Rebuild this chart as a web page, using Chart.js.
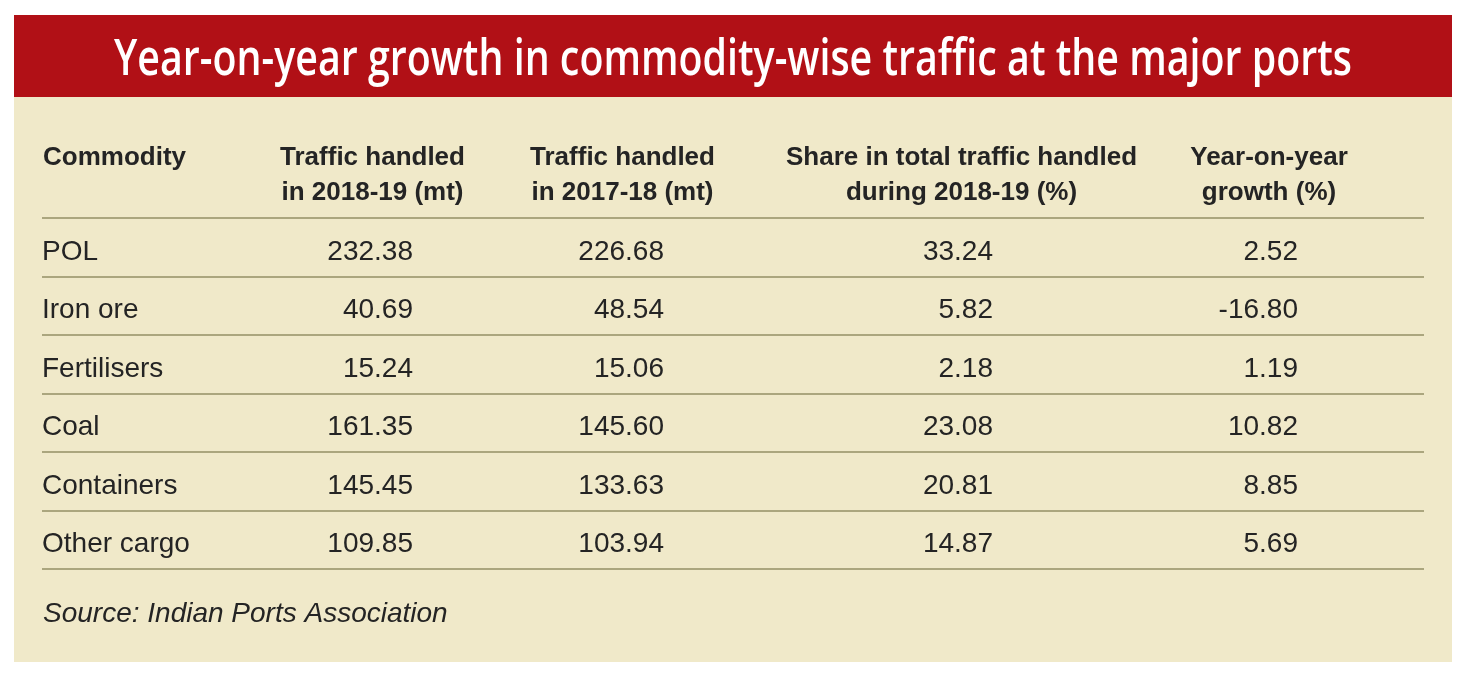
<!DOCTYPE html>
<html>
<head>
<meta charset="utf-8">
<title>Year-on-year growth in commodity-wise traffic at the major ports</title>
<script src="https://cdn.jsdelivr.net/npm/chart.js@4.4.0/dist/chart.umd.min.js"></script>
<style>
  html, body { margin: 0; padding: 0; background: #ffffff; }
  #wrap { position: relative; width: 1470px; height: 677px; }
</style>
</head>
<body>
<div id="wrap"><canvas id="ports-table"></canvas></div>
<script>
// ---- data ----
const titleText = 'Year-on-year growth in commodity-wise traffic at the major ports';
const sourceText = 'Source: Indian Ports Association';
const commodities = ['POL', 'Iron ore', 'Fertilisers', 'Coal', 'Containers', 'Other cargo'];
const traffic2018_19 = [232.38, 40.69, 15.24, 161.35, 145.45, 109.85];
const traffic2017_18 = [226.68, 48.54, 15.06, 145.60, 133.63, 103.94];
const shareTotal = [33.24, 5.82, 2.18, 23.08, 20.81, 14.87];
const yoyGrowth = [2.52, -16.80, 1.19, 10.82, 8.85, 5.69];
const firstHeader = 'Commodity';
const columnHeaders = [
    ['Traffic handled', 'in 2018-19 (mt)'],
    ['Traffic handled', 'in 2017-18 (mt)'],
    ['Share in total traffic handled', 'during 2018-19 (%)'],
    ['Year-on-year', 'growth (%)']
];

// ---- layout / style ----
const PANEL = { x: 14, y: 15, w: 1438, h: 647, band: 82 };
const PANEL_BG = '#f0e9c9';
const TITLE_BG = '#b11016';
const RULE = '#aba67e';
const INK = '#242424';
const BODY_FONT = '"Liberation Sans", Arial, sans-serif';
const colRight = [413, 664, 993, 1298];     // right edge of each number column
const colCenter = [372.5, 622.5, 961.5, 1269]; // centre of each column heading
const headerBaselines = [165, 200];

const numberColumns = [traffic2018_19, traffic2017_18, shareTotal, yoyGrowth];

const tablePlugin = {
    id: 'tablePlugin',
    beforeDraw(chart) {
        const ctx = chart.ctx;
        ctx.save();
        ctx.fillStyle = '#ffffff';
        ctx.fillRect(0, 0, chart.width, chart.height);
        ctx.fillStyle = PANEL_BG;
        ctx.fillRect(PANEL.x, PANEL.y, PANEL.w, PANEL.h);
        ctx.fillStyle = TITLE_BG;
        ctx.fillRect(PANEL.x, PANEL.y, PANEL.w, PANEL.band);

        // title, squeezed to the condensed width of the original
        ctx.font = '600 51px "Open Sans", sans-serif';
        ctx.fillStyle = '#ffffff';
        ctx.textAlign = 'center';
        ctx.textBaseline = 'alphabetic';
        const w = ctx.measureText(titleText).width;
        ctx.translate(PANEL.x + PANEL.w / 2, 75);
        ctx.scale(1238 / w, 1);
        ctx.fillText(titleText, 0, 0);
        ctx.restore();
    },
    afterDatasetsDraw(chart) {
        const ctx = chart.ctx;
        const xScale = chart.scales.x;
        ctx.save();
        ctx.fillStyle = INK;

        // column headings
        ctx.font = 'bold 26px ' + BODY_FONT;
        ctx.textBaseline = 'alphabetic';
        ctx.textAlign = 'left';
        ctx.fillText(firstHeader, xScale.getPixelForValue(43), headerBaselines[0]);
        ctx.textAlign = 'center';
        columnHeaders.forEach((lines, j) => {
            lines.forEach((line, k) => {
                ctx.fillText(line, xScale.getPixelForValue(colCenter[j]), headerBaselines[k]);
            });
        });

        // cell values, placed at each point the library laid out
        ctx.font = '28px ' + BODY_FONT;
        ctx.textAlign = 'right';
        ctx.textBaseline = 'middle';
        numberColumns.forEach((vals, j) => {
            const meta = chart.getDatasetMeta(j);
            meta.data.forEach((pt, i) => {
                ctx.fillText(vals[i].toFixed(2), pt.x, pt.y + 5);
            });
        });

        // source line
        ctx.font = 'italic 28px ' + BODY_FONT;
        ctx.textAlign = 'left';
        ctx.textBaseline = 'alphabetic';
        ctx.fillText(sourceText, xScale.getPixelForValue(43), 622);
        ctx.restore();
    }
};

new Chart(document.getElementById('ports-table'), {
    type: 'scatter',
    data: {
        datasets: numberColumns.map((vals, j) => ({
            label: columnHeaders[j].join(' '),
            data: commodities.map((c) => ({ x: colRight[j], y: c })),
            pointRadius: 0,
            pointHoverRadius: 0
        }))
    },
    options: {
        responsive: true,
        maintainAspectRatio: false,
        animation: false,
        events: [],
        layout: {
            padding: { top: 218, bottom: 108, left: 42, right: 46 }
        },
        plugins: {
            legend: { display: false },
            tooltip: { enabled: false },
            title: { display: false }
        },
        scales: {
            x: {
                type: 'linear',
                min: 42,
                max: 1424,
                display: false
            },
            y: {
                type: 'category',
                labels: commodities,
                offset: true,
                border: { display: false },
                grid: {
                    offset: true,
                    drawTicks: false,
                    color: RULE,
                    lineWidth: 2
                },
                ticks: {
                    mirror: true,
                    padding: 0,
                    labelOffset: 5,
                    color: INK,
                    font: { family: BODY_FONT, size: 28 }
                }
            }
        }
    },
    plugins: [tablePlugin]
});
</script>
</body>
</html>
